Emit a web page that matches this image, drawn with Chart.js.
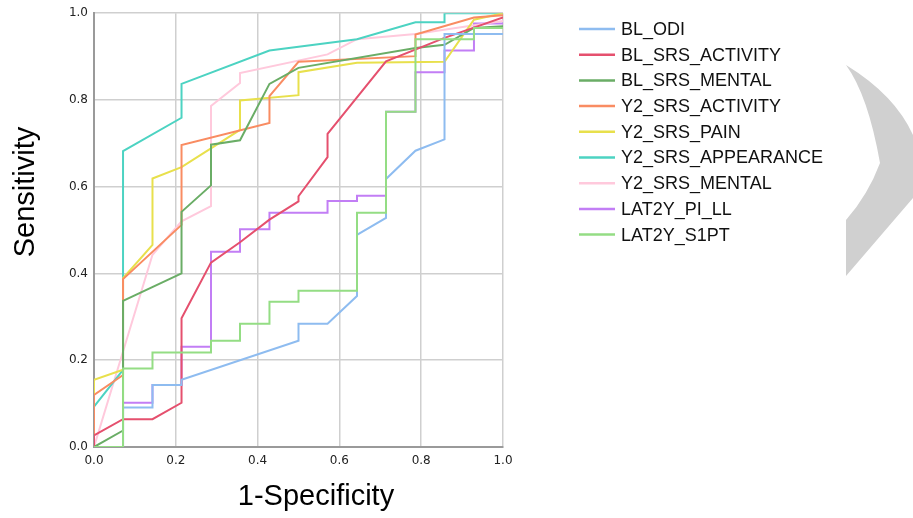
<!DOCTYPE html>
<html>
<head>
<meta charset="utf-8">
<script src="https://cdn.jsdelivr.net/npm/chart.js@4.4.1/dist/chart.umd.min.js"></script>
<style>
  html, body { margin: 0; padding: 0; background: #fff; }
  canvas { display: block; }
</style>
</head>
<body>
<canvas id="rocChart" width="913" height="518"></canvas>
<script>
// ROC curves: [1-specificity, sensitivity] pairs
const BL_ODI = [[0,0],[0.071,0],[0.071,0.091],[0.143,0.091],[0.143,0.143],[0.214,0.143],[0.214,0.155],[0.5,0.245],[0.5,0.284],[0.571,0.284],[0.643,0.348],[0.643,0.489],[0.714,0.528],[0.714,0.618],[0.786,0.683],[0.857,0.709],[0.857,0.952],[1,0.952]];
const BL_SRS_ACTIVITY = [[0,0],[0,0.027],[0.071,0.064],[0.143,0.064],[0.214,0.102],[0.214,0.297],[0.286,0.425],[0.357,0.472],[0.429,0.524],[0.5,0.566],[0.5,0.578],[0.571,0.668],[0.571,0.722],[0.714,0.889],[0.857,0.943],[1,0.99]];
const BL_SRS_MENTAL = [[0,0],[0.071,0.038],[0.071,0.337],[0.214,0.4],[0.214,0.542],[0.286,0.603],[0.286,0.697],[0.357,0.707],[0.429,0.837],[0.5,0.874],[0.786,0.92],[0.857,0.927],[0.929,0.966],[1,0.97]];
const Y2_SRS_ACTIVITY = [[0,0],[0,0.12],[0.071,0.166],[0.071,0.387],[0.214,0.512],[0.214,0.696],[0.429,0.747],[0.429,0.809],[0.5,0.888],[0.786,0.901],[0.786,0.951],[0.929,0.99],[1,0.995]];
const Y2_SRS_PAIN = [[0,0],[0,0.155],[0.071,0.178],[0.071,0.389],[0.143,0.466],[0.143,0.619],[0.214,0.645],[0.357,0.731],[0.357,0.799],[0.5,0.811],[0.5,0.864],[0.643,0.886],[0.857,0.888],[0.929,0.985],[1,1]];
const Y2_SRS_APPEARANCE = [[0,0],[0,0.093],[0.071,0.178],[0.071,0.682],[0.214,0.759],[0.214,0.837],[0.429,0.914],[0.643,0.94],[0.786,0.979],[0.857,0.979],[0.857,1],[1,1]];
const Y2_SRS_MENTAL = [[0,0],[0.071,0.22],[0.143,0.443],[0.214,0.52],[0.286,0.555],[0.286,0.786],[0.357,0.839],[0.357,0.862],[0.571,0.905],[0.643,0.94],[0.786,0.952],[1,0.982]];
const LAT2Y_PI_LL = [[0,0],[0.071,0],[0.071,0.102],[0.143,0.102],[0.143,0.143],[0.214,0.143],[0.214,0.231],[0.286,0.231],[0.286,0.45],[0.357,0.45],[0.357,0.502],[0.429,0.502],[0.429,0.54],[0.571,0.54],[0.571,0.567],[0.643,0.567],[0.643,0.579],[0.714,0.579],[0.714,0.773],[0.786,0.773],[0.786,0.864],[0.857,0.864],[0.857,0.914],[0.929,0.914],[0.929,0.976],[1,0.976]];
const LAT2Y_S1PT = [[0,0],[0.071,0],[0.071,0.181],[0.143,0.181],[0.143,0.218],[0.286,0.218],[0.286,0.245],[0.357,0.245],[0.357,0.284],[0.429,0.284],[0.429,0.335],[0.5,0.335],[0.5,0.36],[0.643,0.36],[0.643,0.54],[0.714,0.54],[0.714,0.773],[0.786,0.773],[0.786,0.94],[0.929,0.94],[0.929,0.966],[1,0.966]];

const seriesNames = ["BL_ODI", "BL_SRS_ACTIVITY", "BL_SRS_MENTAL", "Y2_SRS_ACTIVITY", "Y2_SRS_PAIN", "Y2_SRS_APPEARANCE", "Y2_SRS_MENTAL", "LAT2Y_PI_LL", "LAT2Y_S1PT"];
const seriesData = [BL_ODI, BL_SRS_ACTIVITY, BL_SRS_MENTAL, Y2_SRS_ACTIVITY, Y2_SRS_PAIN, Y2_SRS_APPEARANCE, Y2_SRS_MENTAL, LAT2Y_PI_LL, LAT2Y_S1PT];
const seriesColors = ["#8ebcf0", "#e5506e", "#6aad66", "#f98c62", "#e8e04c", "#4cd3c2", "#ffc9dc", "#c27ef5", "#94dd84"];

const axisTicks = [0, 0.2, 0.4, 0.6, 0.8, 1.0];

// legend, axis titles and the grey shape on the right
const extras = {
  id: "extras",
  afterDraw(chart) {
    const ctx = chart.ctx;
    ctx.save();

    // grey chevron at the right edge
    ctx.fillStyle = "#d0d0d0";
    ctx.beginPath();
    ctx.moveTo(846, 65);
    ctx.quadraticCurveTo(895, 95, 913, 135);
    ctx.lineTo(913, 198);
    ctx.lineTo(846, 276);
    ctx.lineTo(846, 220);
    ctx.quadraticCurveTo(868, 195, 880, 163);
    ctx.quadraticCurveTo(868, 95, 846, 65);
    ctx.closePath();
    ctx.fill();

    // legend
    ctx.font = "18px 'Liberation Sans', Arial, sans-serif";
    ctx.textBaseline = "middle";
    chart.data.datasets.forEach((ds, i) => {
      const y = 29 + i * 25.7;
      ctx.strokeStyle = ds.borderColor;
      ctx.lineWidth = 2.5;
      ctx.beginPath();
      ctx.moveTo(579, y);
      ctx.lineTo(615, y);
      ctx.stroke();
      ctx.fillStyle = "#111";
      ctx.fillText(ds.label, 621, y + 1);
    });

    // axis titles
    ctx.fillStyle = "#000";
    ctx.font = "29px 'Liberation Sans', Arial, sans-serif";
    ctx.textAlign = "center";
    ctx.textBaseline = "middle";
    ctx.fillText("1-Specificity", 316, 497);
    ctx.translate(26, 192);
    ctx.rotate(-Math.PI / 2);
    ctx.fillText("Sensitivity", 0, 0);
    ctx.restore();
  }
};

const gridStyle = { color: "#cfcfcf", lineWidth: 1.5, drawTicks: false };
const borderStyle = { color: "#9a9a9a", width: 2 };
const tickFont = { family: "'DejaVu Sans', sans-serif", size: 12 };

new Chart(document.getElementById("rocChart"), {
  type: "scatter",
  data: {
    datasets: seriesNames.map((name, i) => ({
      label: name,
      data: seriesData[i].map(p => ({ x: p[0], y: p[1] })),
      borderColor: seriesColors[i],
      backgroundColor: seriesColors[i],
      borderWidth: 2,
      showLine: true,
      pointRadius: 0,
      tension: 0,
      order: name === "LAT2Y_S1PT" ? -1 : 0,
    })),
  },
  options: {
    responsive: false,
    animation: false,
    layout: { padding: { left: 0, top: 13, right: 410, bottom: 0 } },
    plugins: {
      legend: { display: false },
      tooltip: { enabled: false },
    },
    scales: {
      x: {
        type: "linear",
        min: 0,
        max: 1,
        afterBuildTicks: s => { s.ticks = axisTicks.map(v => ({ value: v })); },
        afterFit: s => { s.height = 71; },
        grid: gridStyle,
        border: borderStyle,
        ticks: { padding: 7, color: "#222", font: tickFont, callback: v => v.toFixed(1), maxRotation: 0 },
      },
      y: {
        type: "linear",
        min: 0,
        max: 1,
        afterBuildTicks: s => { s.ticks = axisTicks.map(v => ({ value: v })); },
        afterFit: s => { s.width = 94; },
        grid: gridStyle,
        border: borderStyle,
        ticks: { padding: 6, color: "#222", font: tickFont, callback: v => v.toFixed(1) },
      },
    },
  },
  plugins: [extras],
});
</script>
</body>
</html>
